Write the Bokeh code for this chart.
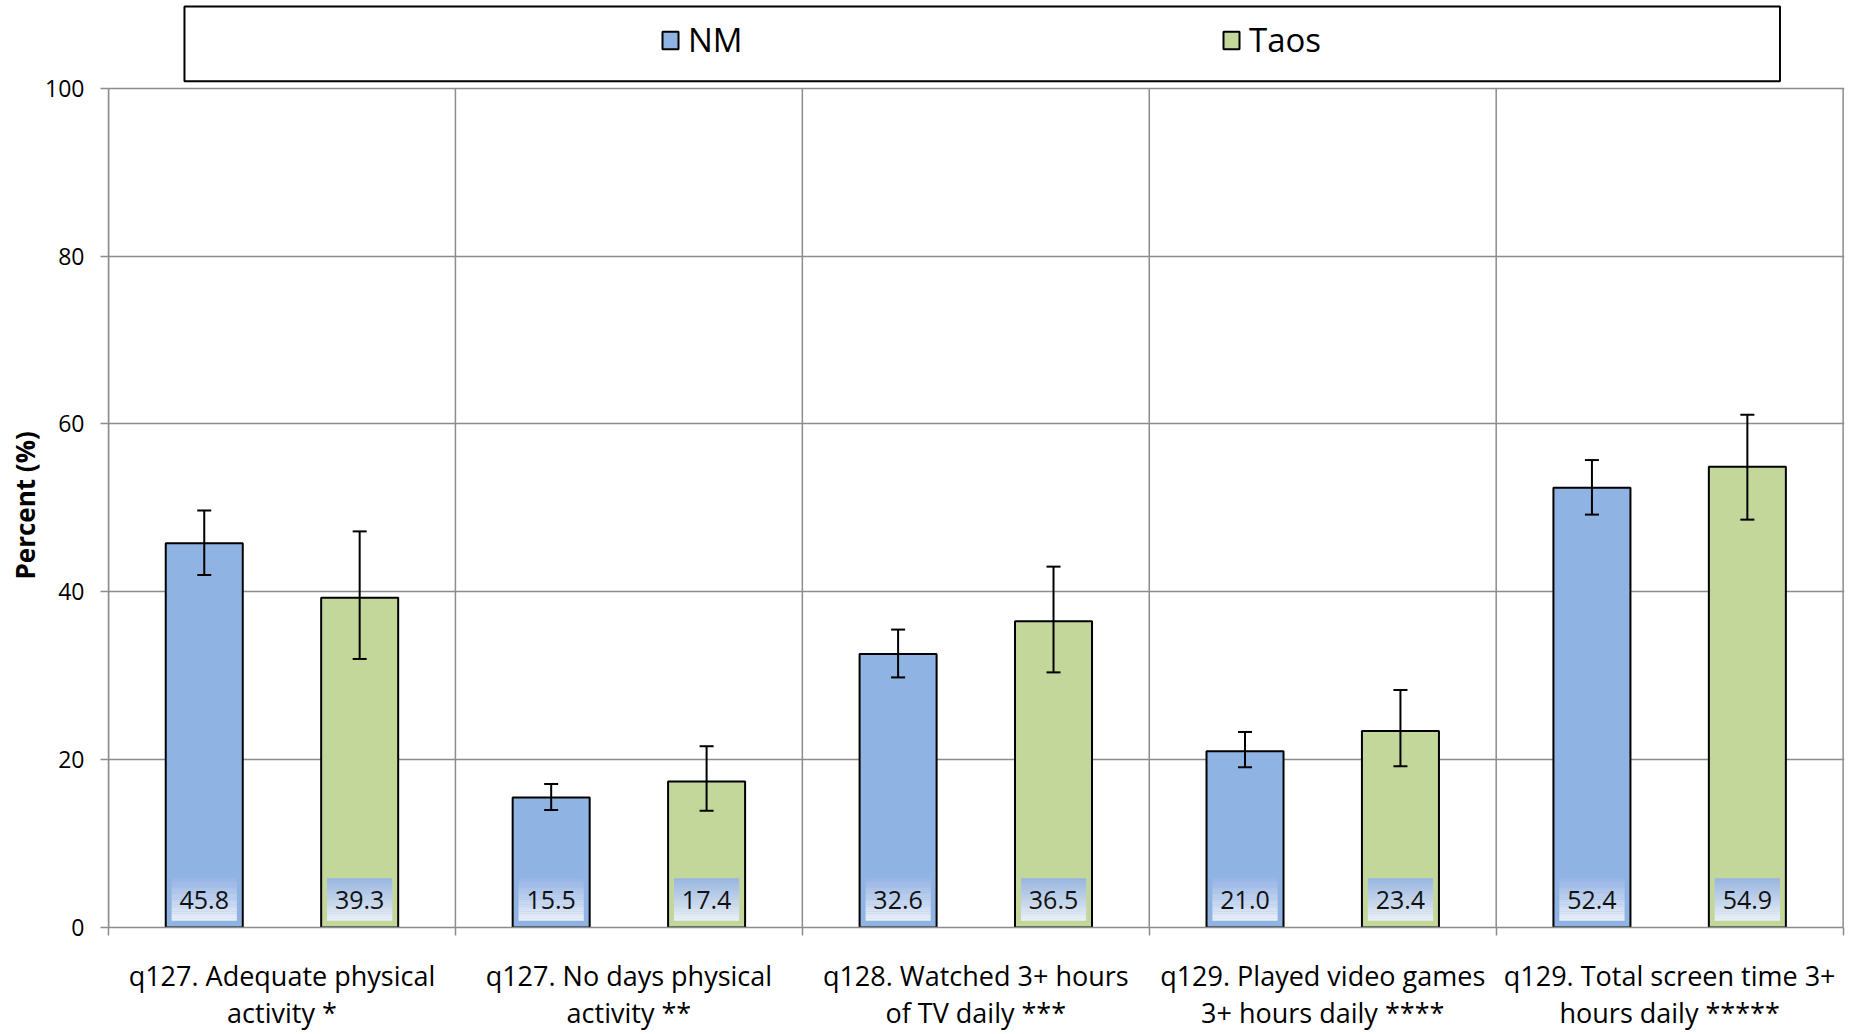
import numpy as np
from bokeh.plotting import figure
from bokeh.models import (ColumnDataSource, Range1d, FixedTicker, Whisker, TeeHead,
                          Legend, LegendItem, BoxAnnotation, Title)
from bokeh.transform import dodge
from bokeh.core.properties import value
from bokeh.embed import file_html
from bokeh.resources import INLINE

# ---------------- data ----------------
categories = [
    "q127. Adequate physical\nactivity *",
    "q127. No days physical\nactivity **",
    "q128. Watched 3+ hours\nof TV daily ***",
    "q129. Played video games\n3+ hours daily ****",
    "q129. Total screen time 3+\nhours daily *****",
]
series_names = ["NM", "Taos"]
nm = [45.8, 15.5, 32.6, 21.0, 52.4]
nm_lo = [42.0, 14.0, 29.8, 19.1, 49.2]
nm_hi = [49.7, 17.1, 35.5, 23.3, 55.7]
taos = [39.3, 17.4, 36.5, 23.4, 54.9]
taos_lo = [32.0, 13.9, 30.4, 19.2, 48.6]
taos_hi = [47.2, 21.6, 43.0, 28.3, 61.1]
y_ticks = [0, 20, 40, 60, 80, 100]
y_title = "Percent (%)"

# ---------------- styles ----------------
FONT = "Open Sans"
NM_COLOR = "#8fb3e2"
TAOS_COLOR = "#c4d79b"
GRID = "#8c8c8c"
OFF = 0.224
BAR_W = 0.222
Y_END = 110.46

n = len(categories)
xc = np.arange(n) + 0.5
src = ColumnDataSource(dict(
    x=xc, nm=nm, nm_lo=nm_lo, nm_hi=nm_hi, taos=taos, taos_lo=taos_lo, taos_hi=taos_hi,
    nm_lbl=[f"{v:.1f}" for v in nm], taos_lbl=[f"{v:.1f}" for v in taos],
))

p = figure(width=1848, height=1033, x_range=Range1d(0, n + 0.004), y_range=Range1d(0, Y_END),
           output_backend="svg", toolbar_location=None, title=None,
           min_border_left=108, min_border_right=4, min_border_top=0, min_border_bottom=104)
p.outline_line_color = None
p.background_fill_color = "white"

# category separators (vertical lines)
bounds = np.arange(n + 1)
p.segment(x0=bounds, y0=0, x1=bounds, y1=y_ticks[-1], line_color=GRID, line_width=1.5)

# bars
r_nm = p.vbar(x=dodge("x", -OFF), top="nm", bottom=0, width=BAR_W, source=src,
              fill_color=NM_COLOR, line_color="black", line_width=2)
r_taos = p.vbar(x=dodge("x", OFF), top="taos", bottom=0, width=BAR_W, source=src,
                fill_color=TAOS_COLOR, line_color="black", line_width=2)

# data label boxes with a vertical gradient
K = 18
lb_bottom, lb_top, lb_half = 0.8, 5.85, 0.094
top_rgb = np.array([150, 180, 228])
bot_rgb = np.array([236, 241, 250])
L, R, B, T, C = [], [], [], [], []
for off in (-OFF, OFF):
    for k in range(K):
        f = (k + 0.5) / K
        rgb = (bot_rgb * (1 - f) + top_rgb * f).astype(int)
        col = "#%02x%02x%02x" % tuple(rgb)
        b = lb_bottom + (lb_top - lb_bottom) * k / K
        t = lb_bottom + (lb_top - lb_bottom) * (k + 1) / K
        for xv in xc:
            L.append(xv + off - lb_half); R.append(xv + off + lb_half)
            B.append(b); T.append(t + 0.01); C.append(col)
p.quad(left=L, right=R, bottom=B, top=T, fill_color=C, line_color=None)

lbl_y = (lb_bottom + lb_top) / 2
for off, col in ((-OFF, "nm_lbl"), (OFF, "taos_lbl")):
    p.text(x=dodge("x", off), y=lbl_y, text=col, source=src, text_align="center",
           text_baseline="middle", text_font=value(FONT), text_font_size="25px",
           text_color="#111111")

# error bars
for off, lo, hi in ((-OFF, "nm_lo", "nm_hi"), (OFF, "taos_lo", "taos_hi")):
    w = Whisker(source=src, base=dodge("x", off), lower=lo, upper=hi, level="overlay",
                line_color="black", line_width=2,
                lower_head=TeeHead(size=14, line_color="black", line_width=2),
                upper_head=TeeHead(size=14, line_color="black", line_width=2))
    p.add_layout(w)

# axes
xa = p.xaxis[0]
xa.ticker = FixedTicker(ticks=list(xc), minor_ticks=list(bounds))
xa.major_label_overrides = {float(v): c for v, c in zip(xc, categories)}
xa.major_tick_line_color = None
xa.minor_tick_in = 0
xa.minor_tick_out = 8
xa.minor_tick_line_color = GRID
xa.minor_tick_line_width = 1.5
xa.axis_line_color = GRID
xa.axis_line_width = 1.5
xa.major_label_text_font = FONT
xa.major_label_text_font_size = "27px"
xa.major_label_text_color = "black"
xa.major_label_standoff = 21
xa.major_label_text_line_height = 1.0
xa.bounds = (0, n)

ya = p.yaxis[0]
ya.ticker = FixedTicker(ticks=y_ticks)
ya.bounds = (0, y_ticks[-1])
ya.major_tick_in = 0
ya.major_tick_out = 8
ya.major_tick_line_color = GRID
ya.major_tick_line_width = 1.5
ya.minor_tick_line_color = None
ya.axis_line_color = GRID
ya.axis_line_width = 1.5
ya.major_label_text_font = FONT
ya.major_label_text_font_size = "23px"
ya.major_label_text_color = "black"
ya.major_label_standoff = 16

# y-axis title (side-panel title so it can be centred on the 0..100 span)
p.add_layout(Title(text=y_title, align="left", offset=348, standoff=0,
                   text_font=FONT, text_font_style="bold", text_font_size="26px",
                   text_color="black"), "left")

p.xgrid.visible = False
p.ygrid.ticker = FixedTicker(ticks=y_ticks)
p.ygrid.grid_line_color = GRID
p.ygrid.grid_line_width = 1.5

# legend box + legend
box = BoxAnnotation(left=0.219, right=4.818, bottom=100.83, top=109.75,
                    fill_color="white", fill_alpha=1.0, line_color="black",
                    line_alpha=1.0, line_width=2)
p.add_layout(box)

legend = Legend(items=[LegendItem(label=series_names[0], renderers=[r_nm]),
                       LegendItem(label=series_names[1], renderers=[r_taos])],
                orientation="horizontal", location=(552, 865),
                padding=0, margin=0, spacing=33, label_width=500, label_height=40,
                glyph_width=20, glyph_height=22, label_standoff=8,
                label_text_font=FONT, label_text_font_size="33px",
                label_text_color="black",
                border_line_alpha=0, background_fill_alpha=0)
p.add_layout(legend, "center")

open("out.html", "w").write(file_html(p, INLINE))
